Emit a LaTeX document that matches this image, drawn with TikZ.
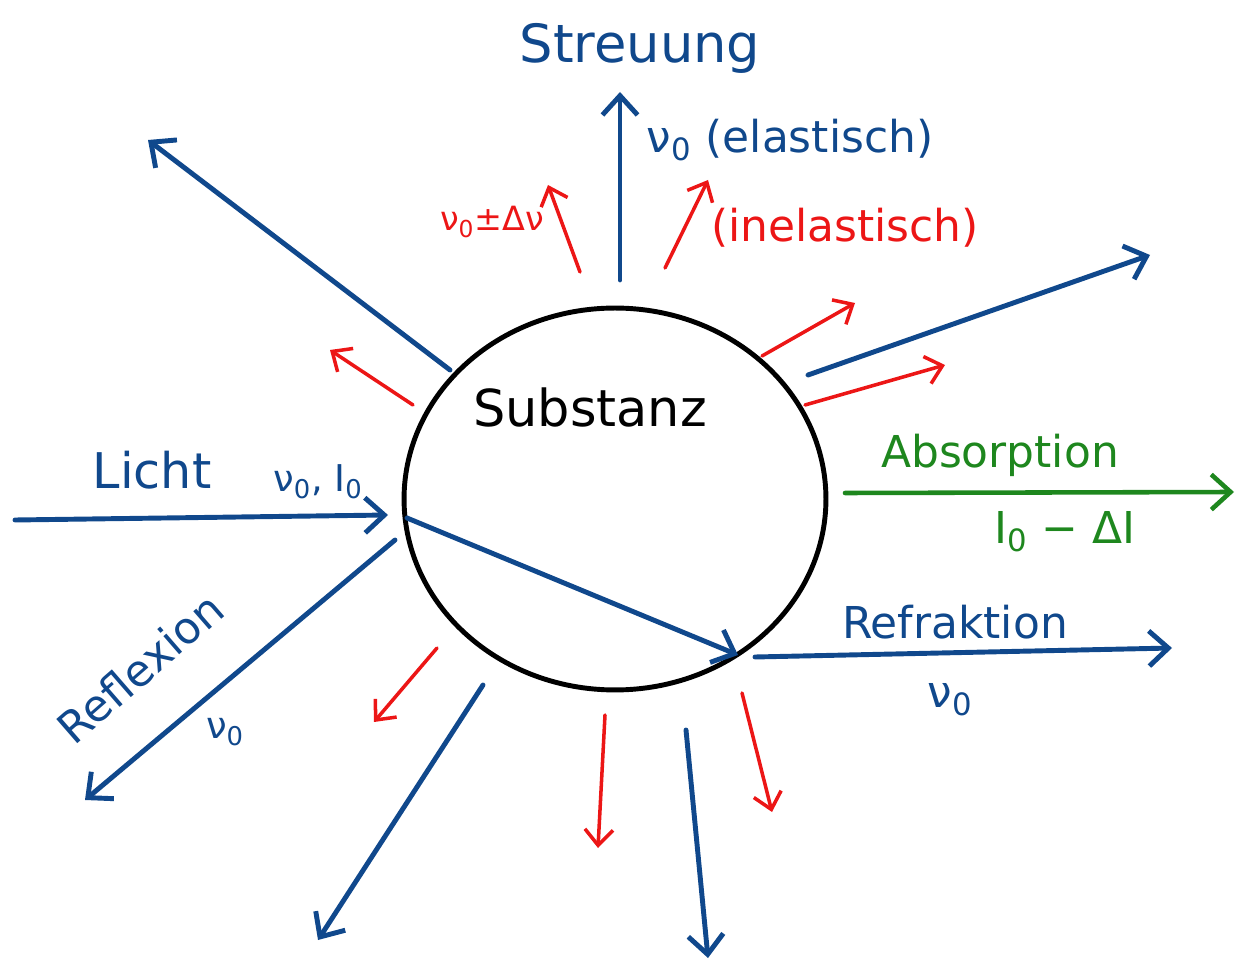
\documentclass[tikz,border=0pt]{standalone}
\usepackage{fontspec}
\setmainfont{DejaVu Sans}
\usetikzlibrary{arrows.meta,shapes.geometric}
\definecolor{inkblue}{RGB}{16,72,140}
\definecolor{inkred}{RGB}{236,22,22}
\definecolor{inkgreen}{RGB}{30,135,30}
\tikzset{
  bluearrow/.style={draw=inkblue,line width=2.8pt,line cap=round,line join=round,
    -{Straight Barb[length=11pt,width=20pt,line width=2.8pt]}},
  redarrow/.style={draw=inkred,line width=2pt,line cap=round,line join=round,
    -{Straight Barb[length=9pt,width=16pt,line width=2pt]}},
  greenarrow/.style={draw=inkgreen,line width=2.6pt,line cap=round,line join=round,
    -{Straight Barb[length=11pt,width=20pt,line width=2.6pt]}},
  bluetext/.style={text=inkblue,font=\fontsize{25}{30}\selectfont,inner sep=0pt},
  redtext/.style={text=inkred,font=\fontsize{25}{30}\selectfont,inner sep=0pt},
  greentext/.style={text=inkgreen,font=\fontsize{25}{30}\selectfont,inner sep=0pt},
  substanz/.style={draw=black,line width=2.8pt,ellipse,inner sep=0pt}
}
\begin{document}
\begin{tikzpicture}[x=0.02cm,y=-0.02cm]
\useasboundingbox (0,0) rectangle (1238,962);
% circle
\node[substanz,minimum width=8.44cm,minimum height=7.64cm] (sub) at (615,499) {};
\node[font=\fontsize{29}{32}\selectfont,inner sep=0pt] (subtxt) at (590,408) {Substanz};
% coordinates
\coordinate (sA) at (620,280); \coordinate (eA) at (620,92);
\coordinate (sB) at (450,370); \coordinate (eB) at (148,140);
\coordinate (sC) at (808,375); \coordinate (eC) at (1150,255);
\coordinate (sL) at (15,520);  \coordinate (eL) at (388,515);
\coordinate (sR) at (395,540); \coordinate (eR) at (85,800);
\coordinate (sI) at (407,518); \coordinate (eI) at (738,655);
\coordinate (sF) at (755,657); \coordinate (eF) at (1172,648);
\coordinate (sD) at (483,685); \coordinate (eD) at (318,940);
\coordinate (sE) at (686,730); \coordinate (eE) at (708,958);
% red
\coordinate (r1s) at (580,272); \coordinate (r1e) at (548,185);
\coordinate (r2s) at (665,268); \coordinate (r2e) at (708,180);
\coordinate (r3s) at (413,405); \coordinate (r3e) at (330,350);
\coordinate (r4s) at (762,356); \coordinate (r4e) at (855,303);
\coordinate (r5s) at (805,405); \coordinate (r5e) at (945,365);
\coordinate (r6s) at (437,648); \coordinate (r6e) at (374,722);
\coordinate (r7s) at (605,715); \coordinate (r7e) at (598,848);
\coordinate (r8s) at (742,693); \coordinate (r8e) at (772,812);
% green
\coordinate (gs) at (845,493); \coordinate (ge) at (1234,492);
% blue arrows
\draw[bluearrow] (sA) -- (eA);
\draw[bluearrow] (sB) -- (eB);
\draw[bluearrow] (sC) -- (eC);
\draw[bluearrow] (sL) -- (eL);
\draw[bluearrow] (sR) -- (eR);
\draw[bluearrow] (sI) -- (eI);
\draw[bluearrow] (sF) -- (eF);
\draw[bluearrow] (sD) -- (eD);
\draw[bluearrow] (sE) -- (eE);
% red arrows
\draw[redarrow] (r1s) -- (r1e);
\draw[redarrow] (r2s) -- (r2e);
\draw[redarrow] (r3s) -- (r3e);
\draw[redarrow] (r4s) -- (r4e);
\draw[redarrow] (r5s) -- (r5e);
\draw[redarrow] (r6s) -- (r6e);
\draw[redarrow] (r7s) -- (r7e);
\draw[redarrow] (r8s) -- (r8e);
% green arrow
\draw[greenarrow] (gs) -- (ge);
% labels
\node[bluetext,font=\fontsize{30}{34}\selectfont] (streu) at (640,48) {Streuung};
\node[bluetext] (elast) at (790,140) {ν\textsubscript{0} (elastisch)};
\node[redtext] (inel) at (845,228) {(inelastisch)};
\node[redtext,font=\fontsize{19}{22}\selectfont] (dnu) at (492,222) {ν\textsubscript{0}±Δν};
\node[bluetext,font=\fontsize{28}{32}\selectfont] (licht) at (152,470) {Licht};
\node[bluetext,font=\fontsize{21}{24}\selectfont] (nuI) at (318,482) {ν\textsubscript{0}, I\textsubscript{0}};
\node[bluetext,rotate=41] (refl) at (140,668) {Reflexion};
\node[bluetext,font=\fontsize{21}{24}\selectfont] (reflnu) at (225,732) {ν\textsubscript{0}};
\node[greentext] (abs) at (1000,455) {Absorption};
\node[greentext] (absI) at (1065,532) {I\textsubscript{0} − ΔI};
\node[bluetext] (refr) at (955,622) {Refraktion};
\node[bluetext] (refrnu) at (950,700) {ν\textsubscript{0}};
\end{tikzpicture}
\end{document}
